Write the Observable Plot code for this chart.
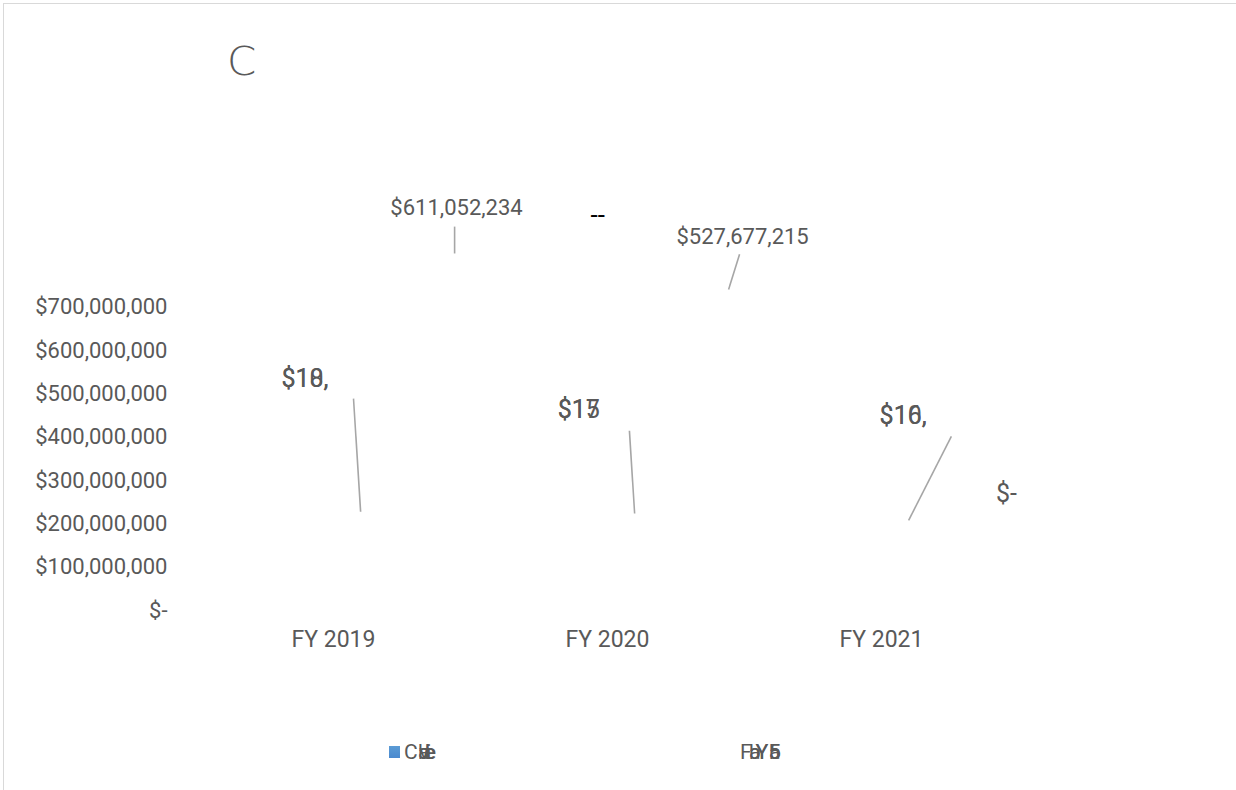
<!DOCTYPE html>
<html>
<head>
<meta charset="utf-8">
<script src="https://cdn.jsdelivr.net/npm/d3@7"></script>
<script src="https://cdn.jsdelivr.net/npm/@observablehq/plot@0.6"></script>
<style>
  html, body { margin: 0; padding: 0; background: #fff; }
  #wrap { position: relative; width: 1236px; height: 790px; overflow: hidden; font-family: Roboto, "Open Sans", sans-serif; color: #595959; }
  #frame { position: absolute; left: 3px; top: 3px; width: 1240px; height: 800px; border-top: 1.5px solid #d9d9d9; border-left: 1.5px solid #d9d9d9; }
  #title { position: absolute; left: 227px; top: 39px; font-size: 42px; font-weight: 200; font-family: "DejaVu Sans", Lato, sans-serif; transform: scaleY(0.92); transform-origin: top left; }
  .leg { position: absolute; top: 740px; font-size: 21px; height: 24px; line-height: 24px; }
  .leg span { position: absolute; top: 0; white-space: pre; }
  #sw { position: absolute; left: 389px; top: 746px; width: 11px; height: 12px; background: linear-gradient(#5b9bd5, #4a89cf); }
</style>
</head>
<body>
<div id="wrap">
  <div id="frame"></div>
  <div id="chart"></div>
  <div id="title">C</div>
  <div id="sw"></div>
  <div class="leg" id="leg1" style="left:404px;"></div>
  <div class="leg" id="leg2" style="left:740px;"></div>
</div>
<script>
// Categories and axis ticks
const categories = ["FY 2019", "FY 2020", "FY 2021"];
const yTicks = [0, 100000000, 200000000, 300000000, 400000000, 500000000, 600000000, 700000000];

// Data labels as rendered (overlapping strings), anchored in data units
const labelText  = ["$611,052,234", "$527,677,215", "--", "$10,", "$18,", "$15", "$17", "$10,", "$16,", "$-"];
const labelCat   = [0.449, 1.493, 0.964, -0.19, -0.19, 0.818, 0.818, 1.993, 1.993, 2.418];
const labelValue = [928e6, 863e6, 912e6, 535e6, 535e6, 462e6, 462e6, 448e6, 448e6, 270e6];
const labelKind  = ["total", "total", "dash", "big", "big", "big", "big", "big", "big", "big"];

// Leader lines (from label to bar), in data units
const leaderCat1 = [0.442, 1.482, 0.073, 1.080, 2.255];
const leaderVal1 = [886e6, 822e6, 489e6, 415e6, 402e6];
const leaderCat2 = [0.442, 1.442, 0.099, 1.099, 2.099];
const leaderVal2 = [824e6, 741e6, 228e6, 224e6, 208e6];

// Legend entries (overlapping strings as rendered)
const legend1 = ["C", "ble", "ati", "ve"];
const legend2 = ["F", "bY", "aY", "b", "5", "a"];
// layout only: horizontal offset of each legend fragment (px)
const legend1Offset = [0, 14, 14, 15];
const legend2Offset = [0, 9, 9, 29, 29, 29];

const labels = labelText.map((t, i) => ({t, x: labelCat[i], y: labelValue[i], k: labelKind[i]}));
const leaders = leaderCat1.map((c, i) => ({x1: c, y1: leaderVal1[i], x2: leaderCat2[i], y2: leaderVal2[i]}));

const fmt = d3.format(",");
const chart = Plot.plot({
  width: 1236,
  height: 790,
  marginLeft: 196,
  marginRight: 218,
  marginTop: 306.7,
  marginBottom: 180,
  style: {fontFamily: "Roboto, sans-serif", color: "#595959", background: "transparent", overflow: "visible"},
  x: {domain: [-0.5, 2.5]},
  y: {domain: [0, 700000000]},
  marks: [
    Plot.axisY({ticks: yTicks, tickSize: 0, tickPadding: 29, fontSize: 22, fill: "#595959",
      tickFormat: d => d === 0 ? "$-" : "$" + fmt(d)}),
    Plot.axisX({ticks: [0, 1, 2], tickSize: 0, tickPadding: 20, fontSize: 23, fill: "#595959",
      tickFormat: d => categories[d]}),
    Plot.link(leaders, {x1: "x1", y1: "y1", x2: "x2", y2: "y2", stroke: "#a6a6a6", strokeWidth: 1.6}),
    Plot.text(labels.filter(d => d.k === "total"), {x: "x", y: "y", text: "t", fontSize: 22, fill: "#595959"}),
    Plot.text(labels.filter(d => d.k === "dash"), {x: "x", y: "y", text: "t", fontSize: 26, fill: "#000"}),
    Plot.text(labels.filter(d => d.k === "big"), {x: "x", y: "y", text: "t", fontSize: 25, fill: "#595959", textAnchor: "start"})
  ]
});
document.getElementById("chart").appendChild(chart);

for (const [id, arr, off] of [["leg1", legend1, legend1Offset], ["leg2", legend2, legend2Offset]]) {
  const el = document.getElementById(id);
  arr.forEach((s, i) => { const sp = document.createElement("span"); sp.textContent = s; sp.style.left = off[i] + "px"; if (i > 0) sp.style.letterSpacing = "-5px"; el.appendChild(sp); });
}
</script>
</body>
</html>
